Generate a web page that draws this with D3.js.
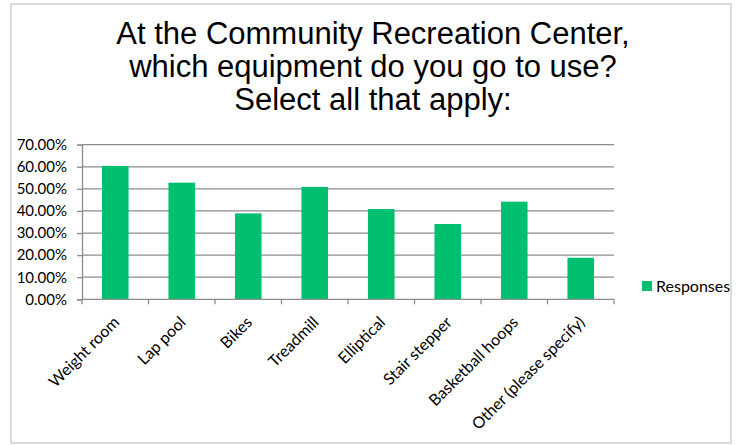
<!DOCTYPE html>
<html>
<head>
<meta charset="utf-8">
<script src="https://cdn.jsdelivr.net/npm/d3@7"></script>
<style>
  html, body { margin: 0; padding: 0; background: #fff; }
  svg { display: block; }
</style>
</head>
<body>
<svg id="chart" width="739" height="445"></svg>
<script>
// Survey question and answer shares
const titleLines = [
  "At the Community Recreation Center,",
  "which equipment do you go to use?",
  "Select all that apply:"
];
const categories = [
  "Weight room", "Lap pool", "Bikes", "Treadmill",
  "Elliptical", "Stair stepper", "Basketball hoops", "Other (please specify)"
];
const responses = [0.604, 0.528, 0.389, 0.509, 0.409, 0.341, 0.442, 0.188];
const yTicks = [0, 0.1, 0.2, 0.3, 0.4, 0.5, 0.6, 0.7];
const seriesName = "Responses";

const svg = d3.select("#chart");
const plot = { left: 82, right: 614, top: 144.7, bottom: 299.3 };
const green = "#00bf6f";
const gridColor = "#8c8c8c";
const labelFont = "Lato, 'Open Sans', sans-serif";

// outer frame
svg.append("rect")
  .attr("x", 11).attr("y", 4)
  .attr("width", 720).attr("height", 439)
  .attr("fill", "#fff")
  .attr("stroke", "#d0d0d0").attr("stroke-width", 1.5);

// title
svg.append("g").selectAll("text")
  .data(titleLines)
  .join("text")
  .attr("x", 373)
  .attr("y", (d, i) => 44 + i * 33)
  .attr("text-anchor", "middle")
  .attr("font-family", "'Liberation Sans', Arial, sans-serif")
  .attr("font-size", 31)
  .attr("fill", "#000")
  .text(d => d);

const x = d3.scaleBand()
  .domain(categories)
  .range([plot.left, plot.right])
  .paddingInner(0.6)
  .paddingOuter(0.3);

const xBounds = d3.scaleLinear()
  .domain([0, categories.length])
  .range([plot.left, plot.right]);

const y = d3.scaleLinear()
  .domain([0, 0.7])
  .range([plot.bottom, plot.top]);

// horizontal gridlines
svg.append("g")
  .selectAll("line")
  .data(yTicks.filter(t => t > 0))
  .join("line")
  .attr("x1", plot.left).attr("x2", plot.right)
  .attr("y1", d => y(d)).attr("y2", d => y(d))
  .attr("stroke", gridColor).attr("stroke-width", 1.3);

// bars
svg.append("g")
  .selectAll("rect")
  .data(responses)
  .join("rect")
  .attr("x", (d, i) => x(categories[i]))
  .attr("y", d => y(d))
  .attr("width", x.bandwidth())
  .attr("height", d => y(0) - y(d))
  .attr("fill", green);

// y axis
const yAxis = d3.axisLeft(y)
  .tickValues(yTicks)
  .tickFormat(d3.format(".2%"))
  .tickSize(5)
  .tickPadding(10);
const gy = svg.append("g")
  .attr("transform", `translate(${plot.left},0)`)
  .call(yAxis);
gy.select(".domain").attr("stroke", gridColor).attr("stroke-width", 1.3);
gy.selectAll(".tick line").attr("stroke", gridColor).attr("stroke-width", 1.3);
gy.selectAll(".tick text")
  .attr("font-family", labelFont)
  .attr("font-size", 15)
  .attr("fill", "#000");

// x axis: baseline with ticks at category boundaries
const gx = svg.append("g");
gx.append("line")
  .attr("x1", plot.left).attr("x2", plot.right)
  .attr("y1", plot.bottom).attr("y2", plot.bottom)
  .attr("stroke", gridColor).attr("stroke-width", 1.3);
gx.selectAll("line.tick")
  .data(d3.range(categories.length + 1))
  .join("line")
  .attr("class", "tick")
  .attr("x1", d => xBounds(d)).attr("x2", d => xBounds(d))
  .attr("y1", plot.bottom).attr("y2", plot.bottom + 5)
  .attr("stroke", gridColor).attr("stroke-width", 1.3);

// rotated category labels
gx.selectAll("text")
  .data(categories)
  .join("text")
  .attr("transform", d => `translate(${x(d) + x.bandwidth() / 2 + 5},${plot.bottom + 24}) rotate(-45)`)
  .attr("text-anchor", "end")
  .attr("font-family", labelFont)
  .attr("font-size", 16)
  .attr("fill", "#000")
  .text(d => d);

// legend
const legend = svg.append("g").attr("transform", "translate(642,281)");
legend.append("rect")
  .attr("width", 10).attr("height", 10)
  .attr("fill", green);
legend.append("text")
  .attr("x", 14).attr("y", 10.5)
  .attr("font-family", labelFont)
  .attr("font-size", 16)
  .attr("fill", "#000")
  .text(seriesName);
</script>
</body>
</html>
